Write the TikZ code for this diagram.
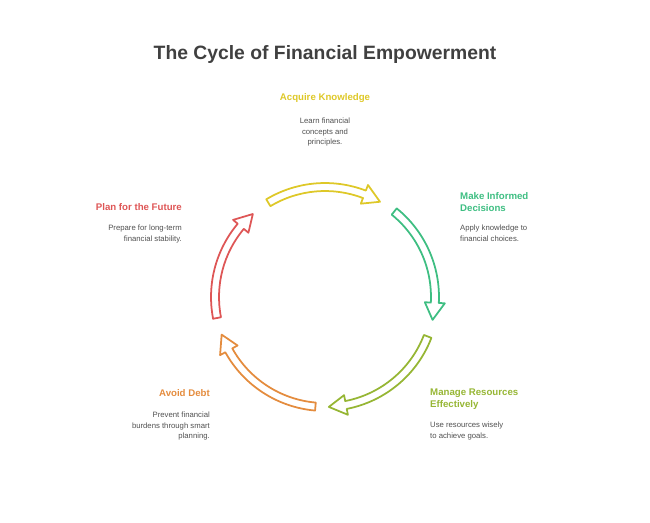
\documentclass[tikz,border=0pt]{standalone}
\usepackage{fontspec}
\setmainfont{Liberation Sans}
\usetikzlibrary{positioning}
\definecolor{cyellow}{RGB}{222,200,40}
\definecolor{cgreen}{RGB}{62,190,130}
\definecolor{colive}{RGB}{150,182,52}
\definecolor{corange}{RGB}{228,140,62}
\definecolor{cred}{RGB}{222,86,86}
\definecolor{ctext}{RGB}{80,80,80}
% hollow curved arrow: colour, start angle, end angle
\newcommand{\cyclearrow}[3]{%
  \draw[#1, line width=1pt, fill=white, line join=round]
    (#2:2.28cm) arc[start angle=#2, end angle=#3+9, radius=2.28cm]
    -- (#3+9:2.4cm) -- (#3:2.2cm) -- (#3+9:2.0cm) -- (#3+9:2.12cm)
    arc[start angle=#3+9, end angle=#2, radius=2.12cm] -- cycle;}
\begin{document}
\begin{tikzpicture}[x=0.02cm, y=-0.02cm,
    steptitle/.style={font=\bfseries\fontsize{5.5pt}{6.6pt}\selectfont},
    stepdesc/.style={text=ctext, font=\fontsize{4.4pt}{5.9pt}\selectfont}
  ]
  \useasboundingbox (0,0) rectangle (650,522);
  \node[font=\bfseries\fontsize{11pt}{14pt}\selectfont, text=ctext!80!black] (title) at (325,54) {The Cycle of Financial Empowerment};

  % arrows
  \begin{scope}[shift={(325,297)}, x=1cm, y=1cm]
    \cyclearrow{cyellow}{121}{60}
    \cyclearrow{cgreen}{51}{-12}
    \cyclearrow{colive}{-21}{-88}
    \cyclearrow{corange}{-95}{-160}
    \cyclearrow{cred}{-169}{-229}
  \end{scope}

  % labels
  \node[steptitle, text=cyellow] (acq) at (325,98) {Acquire Knowledge};
  \node[stepdesc, align=center, anchor=north] (acqd) at (325,112) {Learn financial\\concepts and\\principles.};

  \node[steptitle, text=cgreen, align=left, anchor=west] (mak) at (454,202) {Make Informed\\Decisions};
  \node[stepdesc, align=left, anchor=north west] (makd) at (454,219) {Apply knowledge to\\financial choices.};

  \node[steptitle, text=colive, align=left, anchor=west] (man) at (424,399) {Manage Resources\\Effectively};
  \node[stepdesc, align=left, anchor=north west] (mand) at (424,416) {Use resources wisely\\to achieve goals.};

  \node[steptitle, text=corange, anchor=east] (avo) at (216,393) {Avoid Debt};
  \node[stepdesc, align=right, anchor=north east] (avod) at (216,406) {Prevent financial\\burdens through smart\\planning.};

  \node[steptitle, text=cred, anchor=east] (pla) at (188,207) {Plan for the Future};
  \node[stepdesc, align=right, anchor=north east] (plad) at (188,219) {Prepare for long-term\\financial stability.};
\end{tikzpicture}
\end{document}
